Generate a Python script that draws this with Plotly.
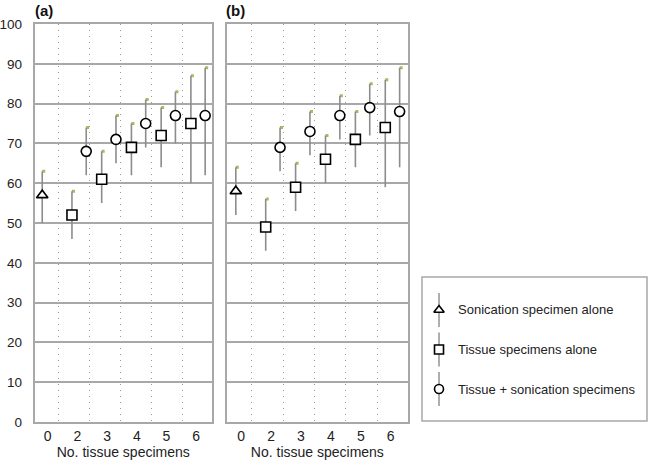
import plotly.graph_objects as go

W, H = 650, 463

categories = ["0", "2", "3", "4", "5", "6"]
series_names = ["Sonication specimen alone", "Tissue specimens alone", "Tissue + sonication specimens"]

# Panel (a)
a_son = [57]; a_son_lo = [50]; a_son_hi = [63]
a_tis = [52, 61, 69, 72, 75]; a_tis_lo = [46, 55, 62, 64, 60]; a_tis_hi = [58, 68, 75, 79, 87]
a_both = [68, 71, 75, 77, 77]; a_both_lo = [62, 65, 69, 70, 62]; a_both_hi = [74, 77, 81, 83, 89]

# Panel (b)
b_son = [58]; b_son_lo = [52]; b_son_hi = [64]
b_tis = [49, 59, 66, 71, 74]; b_tis_lo = [43, 53, 60, 64, 59]; b_tis_hi = [56, 65, 72, 78, 86]
b_both = [69, 73, 77, 79, 78]; b_both_lo = [63, 67, 71, 72, 64]; b_both_hi = [74, 78, 82, 85, 89]

y_ticks = list(range(0, 101, 10))
separators = [0.36, 1.40, 2.46, 3.50, 4.55]

FONT = "Liberation Sans, Arial, sans-serif"
BAR = "#8c8c8c"
CAP = "#a9b95c"
GRID = "#a8a8a8"

fig = go.Figure()

def add_series(xa, ya, idx0, vals, lo, hi, symbol, offset):
    xs = [idx0 + i + offset for i in range(len(vals))]
    plus = [h - v for h, v in zip(hi, vals)]
    minus = [v - l for v, l in zip(vals, lo)]
    fig.add_trace(go.Scatter(
        x=[x + 0.05 for x in xs], y=hi, mode="markers", xaxis=xa, yaxis=ya,
        marker=dict(symbol="square", size=3, color=CAP, line=dict(width=0)),
        showlegend=False, hoverinfo="skip"))
    fig.add_trace(go.Scatter(
        x=xs, y=vals, mode="markers", xaxis=xa, yaxis=ya,
        error_y=dict(type="data", symmetric=False, array=plus, arrayminus=minus,
                     color=BAR, thickness=1.6, width=0),
        marker=dict(symbol=symbol, size=10, color="white",
                    line=dict(color="black", width=1.6)),
        showlegend=False))

for xa, ya, son, son_lo, son_hi, tis, tis_lo, tis_hi, both, both_lo, both_hi in [
        ("x", "y", a_son, a_son_lo, a_son_hi, a_tis, a_tis_lo, a_tis_hi, a_both, a_both_lo, a_both_hi),
        ("x2", "y2", b_son, b_son_lo, b_son_hi, b_tis, b_tis_lo, b_tis_hi, b_both, b_both_lo, b_both_hi)]:
    add_series(xa, ya, 0, son, son_lo, son_hi, "triangle-up", -0.18)
    add_series(xa, ya, 1, tis, tis_lo, tis_hi, "square", -0.18)
    add_series(xa, ya, 1, both, both_lo, both_hi, "circle", 0.30)

# custom legend panel
leg_symbols = ["triangle-up", "square", "circle"]
leg_y = list(range(len(series_names)))
fig.add_trace(go.Scatter(
    x=[0.0756] * len(series_names), y=leg_y, mode="markers", xaxis="x3", yaxis="y3",
    error_y=dict(type="constant", value=0.43, color=BAR, thickness=1.4, width=0),
    marker=dict(symbol=leg_symbols, size=9, color="white", line=dict(color="black", width=1.6)),
    showlegend=False, hoverinfo="skip"))

def px_x(p):
    return p / W

def px_y(p):
    return 1 - p / H

xdom_a = [px_x(34.5), px_x(212)]
xdom_b = [px_x(227), px_x(407.7)]
ydom = [px_y(422), px_y(24)]

common_x = dict(
    tickmode="array", tickvals=list(range(len(categories))), ticktext=categories,
    showgrid=False, zeroline=False, showline=True, mirror=True, linecolor=GRID, linewidth=1.5,
    ticks="", tickfont=dict(size=14, color="#222", family=FONT), automargin=False,
    title=dict(text="No. tissue specimens", font=dict(size=14, color="#222", family=FONT), standoff=2),
    minor=dict(tickmode="array", tickvals=separators, showgrid=True, griddash="1px,5px",
               gridcolor="#9a9a9a", gridwidth=1, ticks=""),
)
common_y = dict(
    range=[0, 100], tickmode="array", tickvals=y_ticks, showgrid=True, gridcolor=GRID, gridwidth=1.5,
    zeroline=False, showline=True, mirror=True, linecolor=GRID, linewidth=1.5, ticks="",
    domain=ydom, automargin=False,
)

fig.update_layout(
    width=W, height=H, margin=dict(l=0, r=0, t=0, b=0, pad=0),
    paper_bgcolor="white", plot_bgcolor="white",
    font=dict(family=FONT, color="#222"),
    xaxis=dict(domain=xdom_a, range=[-0.44, 5.53], anchor="y", **common_x),
    yaxis=dict(anchor="x", showticklabels=True, tickfont=dict(size=13.5, color="#222", family=FONT),
               ticklabelstandoff=8, **common_y),
    xaxis2=dict(domain=xdom_b, range=[-0.475, 5.57], anchor="y2", **common_x),
    yaxis2=dict(anchor="x2", showticklabels=False, **common_y),
    xaxis3=dict(domain=[px_x(422), px_x(647)], range=[0, 1], anchor="y3",
                visible=False, fixedrange=True, automargin=False),
    yaxis3=dict(domain=[px_y(421), px_y(277)], range=[2.81, -0.835], anchor="x3",
                visible=False, fixedrange=True, automargin=False),
    showlegend=False,
)

# legend box
fig.add_shape(type="rect", xref="paper", yref="paper",
              x0=px_x(422), x1=px_x(647), y0=px_y(421), y1=px_y(277),
              line=dict(color=GRID, width=1.5), fillcolor="rgba(0,0,0,0)", layer="below")

for i, name in enumerate(series_names):
    fig.add_annotation(xref="x3", yref="y3", x=0.151, y=leg_y[i], text=name,
                       showarrow=False, xanchor="left", yanchor="middle",
                       font=dict(size=13, color="#222", family=FONT))

for label, xp in [("(a)", 33), ("(b)", 224)]:
    fig.add_annotation(xref="paper", yref="paper", x=px_x(xp), y=px_y(10), text="<b>" + label + "</b>",
                       showarrow=False, xanchor="left", yanchor="middle",
                       font=dict(size=15, color="#111", family=FONT))

fig.write_html("out.html", config={"displayModeBar": False},
               post_script="document.body.style.margin='0';document.body.style.overflow='hidden';")
